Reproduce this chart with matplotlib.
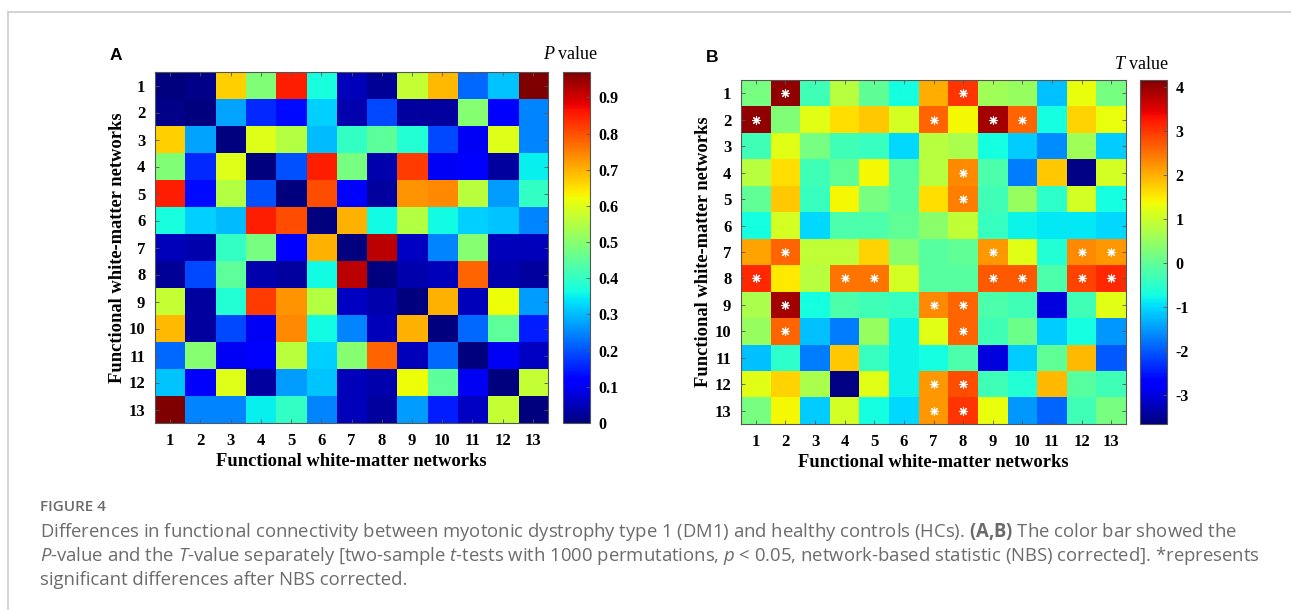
import numpy as np
import matplotlib
matplotlib.use("Agg")
import matplotlib.pyplot as plt
from matplotlib.lines import Line2D

# ---------------- data ----------------
networks = [str(i) for i in range(1, 14)]

p_values = [
    [0.00, 0.01, 0.67, 0.49, 0.85, 0.37, 0.05, 0.02, 0.57, 0.69, 0.22, 0.31, 0.97],
    [0.01, 0.00, 0.28, 0.16, 0.13, 0.32, 0.04, 0.19, 0.03, 0.03, 0.50, 0.12, 0.25],
    [0.67, 0.28, 0.00, 0.60, 0.55, 0.30, 0.40, 0.45, 0.38, 0.19, 0.10, 0.60, 0.25],
    [0.49, 0.16, 0.60, 0.00, 0.20, 0.85, 0.48, 0.04, 0.82, 0.10, 0.12, 0.03, 0.35],
    [0.85, 0.13, 0.55, 0.20, 0.00, 0.80, 0.12, 0.03, 0.73, 0.74, 0.56, 0.27, 0.40],
    [0.37, 0.32, 0.30, 0.85, 0.80, 0.00, 0.70, 0.36, 0.55, 0.36, 0.32, 0.31, 0.25],
    [0.05, 0.04, 0.40, 0.48, 0.12, 0.70, 0.00, 0.92, 0.06, 0.25, 0.50, 0.05, 0.05],
    [0.02, 0.19, 0.45, 0.04, 0.03, 0.36, 0.92, 0.00, 0.04, 0.05, 0.78, 0.04, 0.03],
    [0.57, 0.03, 0.38, 0.82, 0.73, 0.55, 0.06, 0.04, 0.00, 0.70, 0.05, 0.62, 0.27],
    [0.69, 0.03, 0.19, 0.10, 0.74, 0.36, 0.25, 0.05, 0.70, 0.00, 0.22, 0.45, 0.15],
    [0.22, 0.50, 0.10, 0.12, 0.56, 0.32, 0.50, 0.78, 0.05, 0.22, 0.00, 0.10, 0.06],
    [0.31, 0.12, 0.60, 0.03, 0.27, 0.31, 0.05, 0.04, 0.62, 0.45, 0.10, 0.00, 0.57],
    [0.97, 0.25, 0.25, 0.35, 0.40, 0.25, 0.05, 0.03, 0.27, 0.15, 0.06, 0.57, 0.00],
]

t_values = [
    [0.2, 4.0, -0.3, 0.8, 0.0, -0.7, 2.0, 3.0, 0.6, 0.5, -1.2, 1.3, 0.2],
    [4.0, 0.3, 1.2, 1.6, 1.8, 1.1, 2.6, 1.4, 3.9, 2.6, -0.7, 1.7, 1.3],
    [-0.3, 1.2, 0.2, -0.3, -0.4, -1.0, 0.8, 0.7, -0.7, -1.1, -1.6, 0.6, -1.1],
    [0.8, 1.6, -0.3, 0.0, 1.4, -0.1, 0.8, 2.3, -0.2, -1.7, 1.8, -3.6, 1.1],
    [0.0, 1.8, -0.4, 1.4, 0.2, -0.1, 1.6, 2.4, -0.3, 0.5, -0.5, 1.1, -0.7],
    [-0.7, 1.1, -1.0, -0.2, -0.2, 0.0, 0.4, 0.9, -0.4, -0.8, -0.9, -0.9, -1.0],
    [2.1, 2.6, 0.9, 0.9, 1.7, 0.4, -0.1, 0.0, 2.2, 1.2, -0.6, 2.3, 2.2],
    [3.1, 1.5, 0.8, 2.5, 2.5, 1.1, -0.1, -0.1, 2.7, 2.7, -0.2, 2.9, 3.1],
    [0.7, 3.9, -0.7, -0.2, -0.3, -0.4, 2.3, 2.6, -0.2, -0.3, -3.0, -0.3, 1.2],
    [0.5, 2.6, -1.2, -1.7, 0.5, -0.8, 1.2, 2.6, -0.3, 0.1, -1.1, -0.7, -1.5],
    [-1.2, -0.5, -1.7, 1.8, -0.4, -0.8, -0.7, -0.2, -3.0, -1.1, 0.0, 1.9, -2.0],
    [1.2, 1.7, 0.7, -3.6, 1.2, -0.8, 2.2, 2.8, -0.3, -0.6, 1.9, -0.1, -0.3],
    [0.2, 1.4, -1.1, 1.1, -0.7, -1.0, 2.2, 3.0, 1.3, -1.5, -1.9, -0.3, 0.2],
]

# significant (row, column) pairs, 1-based
sig_pairs = [(1, 2), (1, 8), (2, 1), (2, 7), (2, 9), (2, 10), (4, 8), (5, 8),
             (7, 2), (7, 9), (7, 12), (7, 13), (8, 1), (8, 4), (8, 5), (8, 9),
             (8, 10), (8, 12), (8, 13), (9, 2), (9, 7), (9, 8), (10, 2), (10, 8),
             (12, 7), (12, 8), (13, 7), (13, 8)]

p_ticks = [0, 0.1, 0.2, 0.3, 0.4, 0.5, 0.6, 0.7, 0.8, 0.9]
p_ticklabels = ["0", "0.1", "0.2", "0.3", "0.4", "0.5", "0.6", "0.7", "0.8", "0.9"]
t_ticks = [-3, -2, -1, 0, 1, 2, 3, 4]
t_ticklabels = ["-3", "-2", "-1", "0", "1", "2", "3", "4"]
p_range = (0.0, 0.97)
t_range = (-3.65, 4.15)

axis_label = "Functional white-matter networks"

# ---------------- style ----------------
plt.rcParams["font.family"] = ["Liberation Serif", "DejaVu Serif"]
plt.rcParams["mathtext.fontset"] = "custom"
plt.rcParams["mathtext.rm"] = "Open Sans"
plt.rcParams["mathtext.it"] = "Open Sans:italic"
plt.rcParams["mathtext.bf"] = "Open Sans:bold"

W, H = 1291, 610
fig = plt.figure(figsize=(W / 100, H / 100), dpi=100)


def px_axes(left, top, right, bottom):
    return fig.add_axes([left / W, (H - bottom) / H, (right - left) / W, (bottom - top) / H])


tick_font = dict(family="Liberation Serif", weight="bold", size=12)
label_font = dict(family="Liberation Serif", weight="bold", size=13.3)


def style_heat(ax):
    ax.set_xticks(range(13))
    ax.set_yticks(range(13))
    ax.set_xticklabels(networks, **tick_font)
    ax.set_yticklabels(networks, **tick_font)
    ax.tick_params(direction="in", length=3, width=0.6, color="#555555",
                   top=True, right=True, pad=7)
    for s in ax.spines.values():
        s.set_linewidth(0.8)
        s.set_color("#555555")
    ax.set_xlabel(axis_label, labelpad=3, **label_font)
    ax.set_ylabel(axis_label, labelpad=2, **label_font)


def style_cbar(cb, ticks, labels):
    cb.set_ticks(ticks)
    cb.set_ticklabels(labels)
    for lab in cb.ax.get_yticklabels():
        lab.set_fontfamily("Liberation Serif")
        lab.set_fontweight("bold")
        lab.set_fontsize(11.5)
    cb.ax.tick_params(direction="in", length=3, width=0.6, color="#555555", pad=6)
    cb.outline.set_linewidth(0.8)
    cb.outline.set_edgecolor("#555555")


# Panel A
axA = px_axes(155, 72, 548, 423)
imA = axA.imshow(np.array(p_values), cmap="jet", vmin=p_range[0], vmax=p_range[1],
                 aspect="auto", interpolation="nearest")
style_heat(axA)
caxA = px_axes(563, 72, 590, 423)
cbA = fig.colorbar(imA, cax=caxA)
style_cbar(cbA, p_ticks, p_ticklabels)

# Panel B
axB = px_axes(741, 80, 1126, 424)
imB = axB.imshow(np.array(t_values), cmap="jet", vmin=t_range[0], vmax=t_range[1],
                 aspect="auto", interpolation="nearest")
style_heat(axB)
rows = [r - 1 for r, c in sig_pairs]
cols = [c - 1 for r, c in sig_pairs]
axB.scatter(cols, rows, marker=(8, 2, 0), s=32, color="white", linewidths=0.8, zorder=3)
caxB = px_axes(1140, 80, 1167, 424)
cbB = fig.colorbar(imB, cax=caxB)
style_cbar(cbB, t_ticks, t_ticklabels)

# panel letters
fig.text(110 / W, 1 - 56 / H, "A", family="Liberation Sans", weight="bold", size=12.5,
         va="center", ha="left")
fig.text(706 / W, 1 - 57 / H, "B", family="Liberation Sans", weight="bold", size=12.5,
         va="center", ha="left")

# colorbar titles
fig.text(554 / W, 1 - 59 / H, "P", family="Liberation Serif", style="italic", size=13,
         ha="right", va="baseline")
fig.text(558 / W, 1 - 59 / H, "value", family="Liberation Serif", size=13,
         ha="left", va="baseline")
fig.text(1125 / W, 1 - 69 / H, "T", family="Liberation Serif", style="italic", size=13,
         ha="right", va="baseline")
fig.text(1129 / W, 1 - 69 / H, "value", family="Liberation Serif", size=13,
         ha="left", va="baseline")

# frame lines
fig.add_artist(Line2D([8 / W, 1.0], [1 - 12 / H, 1 - 12 / H], color="#cccccc", lw=1.2))
fig.add_artist(Line2D([8 / W, 8 / W], [0, 1 - 12 / H], color="#cccccc", lw=1.2))

# caption
cap_color = "#6b6b6b"
fig.text(40 / W, 1 - 511 / H, "FIGURE 4", family="Open Sans", weight="semibold",
         size=11, color=cap_color, va="baseline")
cap_lines = [
    r"Differences in functional connectivity between myotonic dystrophy type 1 (DM1) and healthy controls (HCs). $\mathbf{(A{,}B)}$ The color bar showed the",
    r"$\it{P}$-value and the $\it{T}$-value separately [two-sample $\it{t}$-tests with 1000 permutations, $\it{p}$ < 0.05, network-based statistic (NBS) corrected]. *represents",
    r"significant differences after NBS corrected.",
]
for i, line in enumerate(cap_lines):
    fig.text(40 / W, 1 - (537 + 24 * i) / H, line, family="Open Sans", size=13.35,
             color=cap_color, va="baseline")

fig.savefig("out.png", dpi=100)
